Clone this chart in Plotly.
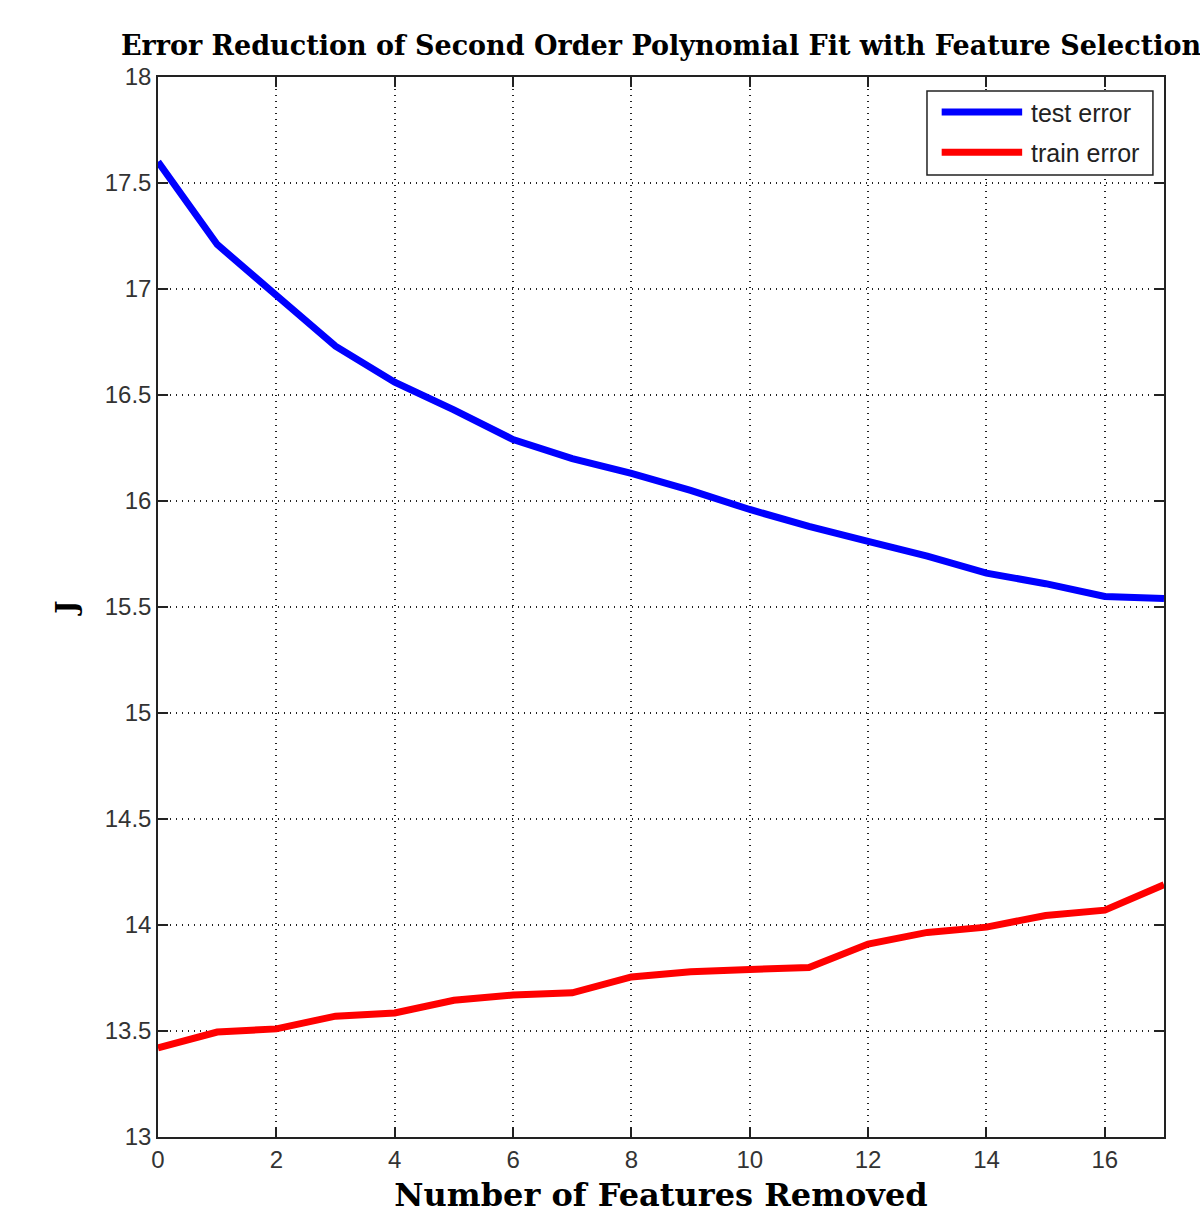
import plotly.graph_objects as go

features_removed = list(range(18))
test_error = [17.60, 17.21, 16.97, 16.73, 16.56, 16.43, 16.29, 16.20, 16.13, 16.05,
              15.96, 15.88, 15.81, 15.74, 15.66, 15.61, 15.55, 15.54]
train_error = [13.42, 13.495, 13.51, 13.57, 13.585, 13.645, 13.67, 13.68, 13.755, 13.78,
               13.79, 13.80, 13.91, 13.965, 13.99, 14.045, 14.07, 14.19]
series_names = ["test error", "train error"]
series_colors = ["#0000ff", "#ff0000"]
x_ticks = list(range(0, 17, 2))
y_ticks = [13, 13.5, 14, 14.5, 15, 15.5, 16, 16.5, 17, 17.5, 18]
y_ticktext = ["13", "13.5", "14", "14.5", "15", "15.5", "16", "16.5", "17", "17.5", "18"]

fig = go.Figure()
fig.add_trace(go.Scatter(x=features_removed, y=test_error, mode="lines",
                         name=series_names[0], line=dict(color=series_colors[0], width=7),
                         showlegend=False))
fig.add_trace(go.Scatter(x=features_removed, y=train_error, mode="lines",
                         name=series_names[1], line=dict(color=series_colors[1], width=7),
                         showlegend=False))

tick_font = dict(family="Liberation Sans, Arial", size=24, color="#333333")
axis_common = dict(
    showline=True, linecolor="#222222", linewidth=1.5, mirror="ticks",
    ticks="inside", ticklen=10, tickcolor="#222222", tickwidth=1.5,
    showgrid=True, gridcolor="#222222", griddash="1px,5px", gridwidth=1.5,
    zeroline=False, tickfont=tick_font, automargin=False,
)

fig.update_xaxes(range=[0, 17], tickvals=x_ticks,
                 title=dict(text="<b>Number of Features Removed</b>",
                            font=dict(family="DejaVu Serif", size=32, color="black"),
                            standoff=12),
                 **axis_common)
fig.update_yaxes(range=[13, 18], tickvals=y_ticks, ticktext=y_ticktext,
                 title=dict(text="<b>J</b>",
                            font=dict(family="DejaVu Serif", size=28, color="black"),
                            standoff=20),
                 **axis_common)

# Legend box drawn manually (matches long legend line samples)
shapes = [
    dict(type="rect", xref="paper", yref="paper", x0=0.7644, x1=0.989, y0=0.9075, y1=0.9868,
         line=dict(color="#222222", width=1.5), fillcolor="white", layer="above"),
    dict(type="line", xref="paper", yref="paper", x0=0.779, x1=0.859, y0=0.967, y1=0.967,
         line=dict(color=series_colors[0], width=7), layer="above"),
    dict(type="line", xref="paper", yref="paper", x0=0.779, x1=0.859, y0=0.929, y1=0.929,
         line=dict(color=series_colors[1], width=7), layer="above"),
]
legend_font = dict(family="Liberation Sans, Arial", size=25, color="#222222")
annotations = [
    dict(xref="paper", yref="paper", x=0.866, y=0.966, text=series_names[0], showarrow=False,
         xanchor="left", yanchor="middle", font=legend_font),
    dict(xref="paper", yref="paper", x=0.866, y=0.928, text=series_names[1], showarrow=False,
         xanchor="left", yanchor="middle", font=legend_font),
]

fig.update_layout(
    width=1200, height=1214,
    margin=dict(l=158, r=36, t=77, b=77, autoexpand=False),
    paper_bgcolor="white", plot_bgcolor="white",
    title=dict(text="<b>Error Reduction of Second Order Polynomial Fit with Feature Selection</b>",
               x=(158 + 1164) / 2 / 1200, xanchor="center", y=1 - 46 / 1214, yanchor="middle",
               font=dict(family="DejaVu Serif", size=27, color="black")),
    shapes=shapes, annotations=annotations,
    showlegend=False,
)

fig.write_html("out.html")
